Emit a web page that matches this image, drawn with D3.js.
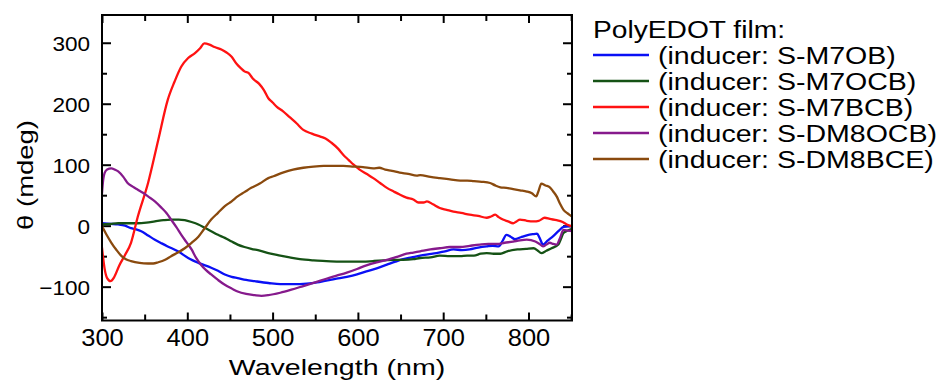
<!DOCTYPE html>
<html>
<head>
<meta charset="utf-8">
<script src="https://cdn.jsdelivr.net/npm/d3@7"></script>
<style>
  html, body { margin: 0; padding: 0; background: #fff; }
  svg { display: block; font-family: "Liberation Sans", Arial, sans-serif; }
</style>
</head>
<body>
<div id="chart"></div>
<script>
// CD spectra, [wavelength nm, theta mdeg]
const m7ob = [[300,4],[310,3],[319,2],[327,0],[334,-4],[340,-6],[346,-9],[354,-16],[362,-23],[370,-29],[377,-34],[389,-42],[401,-53],[413,-61],[428,-69],[436,-74],[444,-80],[452,-84],[459,-86],[469,-89],[479,-91],[495,-94],[509,-96],[525,-96],[540,-95],[552,-93],[563,-90],[575,-87],[587,-84],[599,-80],[610,-75],[622,-70],[634,-64],[644,-59],[653,-55],[663,-52],[673,-49],[682,-47],[692,-45],[702,-42],[712,-39],[722,-40],[731,-39],[741,-36],[751,-34],[758,-33],[765,-34],[770,-24],[774,-15],[779,-18],[784,-22],[791,-19],[798,-16],[805,-14],[810,-13],[813,-20],[817,-31],[822,-25],[829,-17],[835,-9],[841,-2],[846,-1],[851,-1]];

const m7ocb = [[300,2],[310,3],[319,4],[330,4],[342,4],[352,5],[362,7],[372,9],[381,10],[390,10],[397,9],[405,6],[413,2],[420,-3],[428,-9],[436,-15],[444,-20],[452,-26],[459,-31],[467,-35],[475,-38],[485,-41],[495,-45],[509,-49],[520,-52],[532,-55],[548,-57],[563,-58],[580,-59],[595,-59],[606,-59],[618,-58],[630,-57],[642,-56],[653,-56],[665,-55],[673,-53],[685,-52],[696,-49],[708,-50],[720,-50],[728,-49],[736,-49],[744,-46],[751,-45],[759,-46],[767,-46],[775,-42],[787,-39],[797,-38],[806,-37],[811,-41],[815,-45],[821,-41],[827,-37],[835,-31],[838,-22],[841,-12],[846,-8],[851,-5]];

const m7bcb = [[300,-36],[303,-70],[306,-86],[310,-91],[314,-85],[320,-66],[327,-48],[334,-28],[342,15],[354,70],[366,141],[377,206],[385,236],[393,261],[401,275],[409,283],[415,291],[420,299],[426,297],[432,293],[440,289],[446,284],[452,277],[458,265],[463,258],[467,253],[472,250],[477,241],[484,233],[490,222],[495,209],[500,202],[505,195],[512,188],[520,178],[528,168],[536,157],[546,151],[556,146],[562,143],[569,136],[577,126],[583,116],[589,108],[595,100],[602,92],[610,85],[618,78],[626,70],[634,62],[642,56],[649,51],[657,46],[665,43],[671,38],[677,38],[681,40],[688,35],[696,29],[704,26],[712,23],[721,21],[731,18],[741,16],[751,13],[756,15],[761,18],[765,14],[770,10],[776,7],[782,4],[786,7],[790,10],[798,8],[806,7],[812,8],[819,13],[825,11],[833,9],[840,6],[845,2],[851,-1]];

const dm8ocb = [[300,53],[301,70],[303,86],[306,92],[311,94],[315,92],[319,89],[325,80],[330,70],[336,64],[342,59],[348,54],[354,48],[362,40],[370,29],[376,20],[381,10],[387,-2],[393,-15],[399,-27],[405,-39],[410,-52],[416,-64],[422,-73],[428,-80],[436,-89],[444,-97],[452,-103],[459,-108],[469,-112],[479,-114],[487,-115],[495,-114],[509,-110],[522,-105],[536,-99],[550,-93],[563,-87],[575,-82],[587,-77],[599,-71],[610,-65],[622,-60],[634,-56],[646,-51],[657,-46],[665,-44],[673,-42],[685,-39],[696,-37],[708,-35],[720,-35],[731,-33],[743,-31],[753,-30],[763,-30],[772,-28],[782,-26],[790,-24],[798,-23],[808,-26],[813,-30],[817,-34],[821,-31],[825,-28],[829,-30],[833,-31],[837,-20],[841,-7],[846,-8],[851,-9]];

const dm8bce = [[300,-1],[305,-14],[311,-28],[317,-40],[323,-50],[328,-55],[334,-58],[344,-61],[354,-62],[360,-62],[366,-60],[374,-56],[381,-50],[389,-44],[397,-37],[405,-28],[413,-18],[420,-5],[428,10],[436,21],[444,32],[452,40],[459,48],[467,55],[475,62],[485,69],[495,78],[501,81],[512,87],[524,92],[536,95],[548,97],[560,98],[571,98],[583,98],[595,97],[606,96],[618,94],[625,95],[632,92],[640,90],[649,87],[659,85],[669,82],[673,83],[685,80],[696,78],[708,76],[720,74],[728,74],[736,73],[745,72],[755,70],[761,66],[767,63],[774,62],[782,60],[790,58],[798,56],[804,53],[809,48],[812,58],[815,69],[820,66],[825,63],[829,56],[833,48],[837,36],[841,26],[846,20],[851,15]];

const seriesNames = ["(inducer: S-M7OB)", "(inducer: S-M7OCB)", "(inducer: S-M7BCB)", "(inducer: S-DM8OCB)", "(inducer: S-DM8BCE)"];
const seriesData = [m7ob, m7ocb, m7bcb, dm8ocb, dm8bce];
const seriesColors = ["#0a10f5", "#155215", "#ff1212", "#861a8c", "#8a4a0e"];

const legendTitle = "PolyEDOT film:";
const xTicks = [300, 400, 500, 600, 700, 800];
const xMinor = [350, 450, 550, 650, 750, 850];
const yTicks = [-100, 0, 100, 200, 300];
const yMinor = [-150, -50, 50, 150, 250];

const width = 936, height = 383;
const margin = { top: 15, right: 364, bottom: 62.5, left: 102 };

const svg = d3.select("#chart").append("svg")
  .attr("width", width)
  .attr("height", height)
  .attr("viewBox", [0, 0, width, height]);

const x = d3.scaleLinear()
  .domain([300, 851])
  .range([margin.left, width - margin.right]);

const y = d3.scaleLinear()
  .domain([-155.5, 345.5])
  .range([height - margin.bottom, margin.top]);

const x0 = margin.left, x1 = width - margin.right;
const y0 = height - margin.bottom, y1 = margin.top;

// stretched text, the original font runs a bit wide
const stretch = (sel, sx) => sel.each(function () {
  const t = d3.select(this);
  const tx = +t.attr("x") || 0, ty = +t.attr("y") || 0;
  t.attr("x", null).attr("y", null)
    .attr("transform", `translate(${tx},${ty}) scale(${sx},1)`);
});

const styleAxis = g => {
  g.select(".domain").remove();
  g.selectAll(".tick line").attr("stroke", "#000").attr("stroke-width", 2);
  g.selectAll(".tick text").attr("fill", "#000");
};

// minor ticks on all four sides
svg.append("g").attr("transform", `translate(0,${y0})`)
  .call(d3.axisBottom(x).tickValues(xMinor).tickSize(-6).tickFormat(""))
  .call(styleAxis);
svg.append("g").attr("transform", `translate(0,${y1})`)
  .call(d3.axisTop(x).tickValues(xMinor).tickSize(-6).tickFormat(""))
  .call(styleAxis);
svg.append("g").attr("transform", `translate(${x0},0)`)
  .call(d3.axisLeft(y).tickValues(yMinor).tickSize(-5).tickFormat(""))
  .call(styleAxis);
svg.append("g").attr("transform", `translate(${x1},0)`)
  .call(d3.axisRight(y).tickValues(yMinor).tickSize(-5).tickFormat(""))
  .call(styleAxis);

// major ticks
const xAxis = svg.append("g").attr("transform", `translate(0,${y0})`)
  .style("font-family", "Liberation Sans, Arial, sans-serif")
  .style("font-size", "24.5px")
  .call(d3.axisBottom(x).tickValues(xTicks).tickSize(-8).tickPadding(10).tickFormat(d3.format("d")))
  .call(styleAxis);
xAxis.selectAll(".tick text").attr("dy", null).attr("y", 25).call(stretch, 1.04);

svg.append("g").attr("transform", `translate(0,${y1})`)
  .call(d3.axisTop(x).tickValues(xTicks).tickSize(-8).tickFormat(""))
  .call(styleAxis);

const yAxis = svg.append("g").attr("transform", `translate(${x0},0)`)
  .style("font-family", "Liberation Sans, Arial, sans-serif")
  .style("font-size", "20.5px")
  .call(d3.axisLeft(y).tickValues(yTicks).tickSize(-9).tickPadding(12).tickFormat(d3.format("d")))
  .call(styleAxis);
yAxis.selectAll(".tick text").attr("dy", null).attr("y", 7.5).call(stretch, 1.1);

svg.append("g").attr("transform", `translate(${x1},0)`)
  .call(d3.axisRight(y).tickValues(yTicks).tickSize(-9).tickFormat(""))
  .call(styleAxis);

// curves
svg.append("clipPath").attr("id", "plot-clip")
  .append("rect")
  .attr("x", x0).attr("y", y1)
  .attr("width", x1 - x0).attr("height", y0 - y1);

const line = d3.line()
  .x(d => x(d[0]))
  .y(d => y(d[1]))
  .curve(d3.curveMonotoneX);

svg.append("g")
  .attr("clip-path", "url(#plot-clip)")
  .attr("fill", "none")
  .attr("stroke-width", 2.3)
  .attr("stroke-linejoin", "round")
  .attr("stroke-linecap", "round")
  .selectAll("path")
  .data(seriesData)
  .join("path")
  .attr("stroke", (d, i) => seriesColors[i])
  .attr("d", line);

// frame
svg.append("rect")
  .attr("x", x0).attr("y", y1)
  .attr("width", x1 - x0).attr("height", y0 - y1)
  .attr("fill", "none")
  .attr("stroke", "#000")
  .attr("stroke-width", 2);

// axis titles
svg.append("text")
  .attr("x", (x0 + x1) / 2)
  .attr("y", 375)
  .attr("text-anchor", "middle")
  .style("font-size", "22.5px")
  .text("Wavelength (nm)")
  .call(stretch, 1.27);

svg.append("text")
  .attr("transform", `translate(33,175) rotate(-90) scale(1.22,1)`)
  .attr("text-anchor", "middle")
  .style("font-size", "22.5px")
  .text("θ (mdeg)");

// legend
const legend = svg.append("g").attr("transform", "translate(593,0)");

legend.append("text")
  .attr("x", 0).attr("y", 38)
  .style("font-size", "24.5px")
  .text(legendTitle)
  .call(stretch, 1.15);

const rows = legend.selectAll("g.row")
  .data(seriesNames)
  .join("g")
  .attr("class", "row")
  .attr("transform", (d, i) => `translate(0,${55 + i * 26})`);

rows.append("line")
  .attr("x1", 0).attr("x2", 56)
  .attr("stroke", (d, i) => seriesColors[i])
  .attr("stroke-width", 2.5);

rows.append("text")
  .attr("x", 65).attr("y", 9)
  .style("font-size", "24.5px")
  .text(d => d)
  .call(stretch, 1.165);
</script>
</body>
</html>
